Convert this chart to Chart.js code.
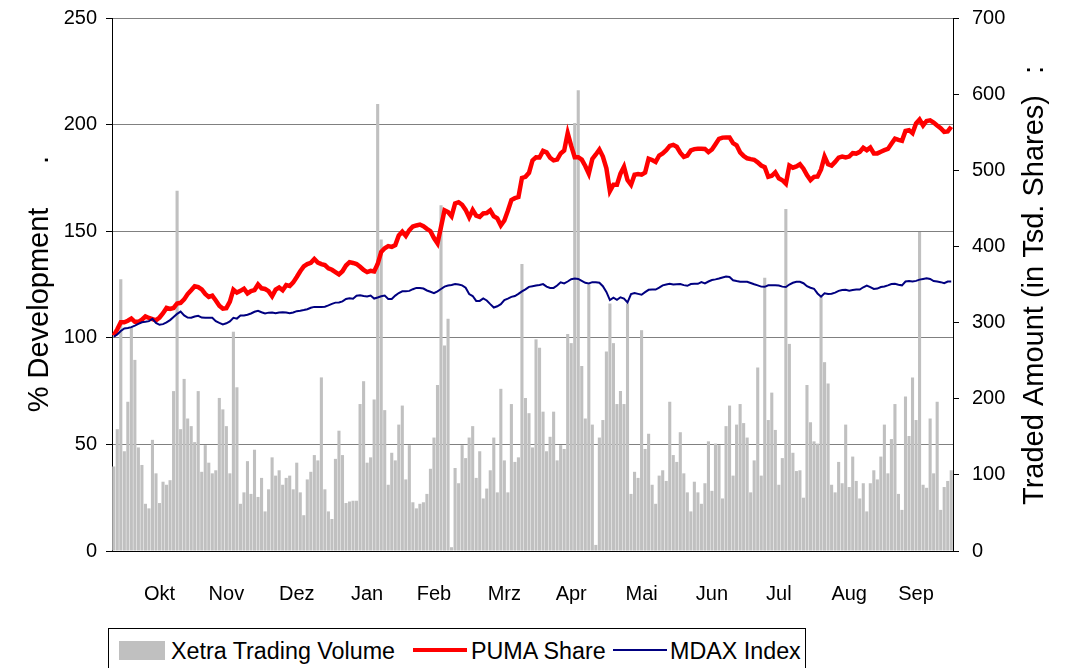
<!DOCTYPE html>
<html>
<head>
<meta charset="utf-8">
<script src="https://cdn.jsdelivr.net/npm/chart.js@4.4.1/dist/chart.umd.min.js"></script>
<style>
body{margin:0;background:#fff;overflow:hidden;font-family:"Liberation Sans",Arial,sans-serif;}
#wrap{position:relative;width:1068px;height:668px;}
#legend{position:absolute;left:108px;top:628px;width:698px;height:52px;border:1px solid #000;box-sizing:border-box;background:#fff;}
#legend div{position:absolute;}
#legend .txt{font-size:23.3px;line-height:26px;top:9px;color:#000;white-space:nowrap;}
</style>
</head>
<body>
<div id="wrap">
<canvas id="chart" width="1068" height="668"></canvas>
<div id="legend">
  <div style="left:10px;top:12px;width:46px;height:19px;background:#c0c0c0;"></div>
  <div class="txt" style="left:62px;">Xetra Trading Volume</div>
  <div style="left:304px;top:19px;width:54px;height:4px;background:#ff0000;"></div>
  <div class="txt" style="left:362px;">PUMA Share</div>
  <div style="left:504px;top:20px;width:54px;height:2px;background:#000080;"></div>
  <div class="txt" style="left:561px;">MDAX Index</div>
</div>
</div>
<script>
// x-axis month labels and the day index they sit on
const months = ['Okt','Nov','Dez','Jan','Feb','Mrz','Apr','Mai','Jun','Jul','Aug','Sep'];
const monthAt = [13,32,52,72,91,111,130,150,170,189,209,228];

// Xetra trading volume, in Tsd. shares (right axis)
const volume = [
  111,160,357,131,196,294,251,136,113,62,56,146,102,63,91,87,93,210,473,160,226,174,164,143,210,104,139,116,102,106,201,186,164,102,288,215,62,77,
  118,75,133,71,96,52,81,123,99,106,87,96,99,81,116,77,47,94,104,126,119,228,81,52,42,121,158,126,63,65,66,66,193,223,116,123,199,587,409,185,
  87,129,119,166,191,94,139,64,56,62,64,75,108,149,218,454,270,305,5,109,89,139,122,149,164,96,131,69,82,106,149,77,213,119,77,193,117,123,377,201,
  181,136,278,267,183,131,150,183,119,139,134,285,273,562,605,243,174,350,166,8,149,172,262,325,273,193,210,193,325,75,104,96,290,134,154,87,62,99,106,92,196,
  126,117,156,102,77,52,91,77,62,89,144,79,141,139,69,164,191,99,166,193,168,149,77,119,241,99,359,172,208,159,87,122,449,272,129,105,106,70,218,169,
  144,141,334,248,220,87,77,117,89,166,84,124,92,69,89,52,89,106,94,124,166,102,147,193,75,54,203,151,228,172,419,87,83,174,102,196,54,84,92,106
];

// PUMA share, % development (left axis)
const puma = [
  101,104,107.3,107.3,108,109,107.5,107.5,108.5,110,109.3,108.8,108.2,109.5,111.5,114,113.5,114,116.1,116.4,118,120.5,122.3,124.2,123.8,122.7,120.6,119.2,119.8,117.5,115,113.7,113.9,117,122.6,121.2,122,123,
  120.8,121.9,122.4,125,123.2,122.9,121.9,119.5,122.6,123.6,122.3,124.7,124.3,126,128.5,131.2,133.5,134.6,135.2,137,135.3,134.6,134.1,132.6,131.9,130.8,129.7,131.2,133.9,135.5,135.1,134.6,133.3,131.8,130.8,131.4,131.1,134.6,140.3,142,
  143,142.6,143.5,148,149.8,147.8,150.5,152.2,152.7,153.1,152.3,151.1,150,146.8,144.3,152,159.8,159,157,163,163.6,162.4,160,156.5,160,157.3,156.7,158.3,158.5,159.8,157,156,152.7,155,159.6,164.6,165.5,166,175,175.5,
  177.4,183.2,184.7,184.6,187.7,187,184.5,183.2,183.6,186.5,187.8,196,190,184.7,184.7,183.6,180.6,177,183.9,186,188.3,185,179.5,168.8,171.8,171.8,177,180.2,174,171.8,176.5,176.8,176.5,177.5,184,183.4,182.5,185.5,186.5,188,190,
  190.5,189.6,186.8,184.9,185.5,187.9,188.5,188.7,188.7,188.6,187.1,188.3,190.8,193.3,193.9,194,194,191.3,190.3,187,185.3,184.2,183.8,183.5,182.3,180.8,180,175.5,176,177.6,174.8,173.9,172.3,180.8,179.8,180.4,181.4,179.3,176.3,174,
  175.5,175.6,179,185,181.4,180.8,182.5,184.5,185,184.6,185,186.6,186.4,187.2,189.1,188,189.2,186.5,186.5,187.3,188,188.6,191,193.4,192.8,192.4,197,197.4,196,200.5,202.4,199.6,201.7,202,201,199.6,198.3,196.6,196.8,199
];

// MDAX index, % development (left axis)
const mdax = [
  100.5,101.6,103.2,104.4,104.6,105,105.7,106.5,107.3,107.5,107.8,108.9,107,106.1,106.4,107.2,108.3,109.8,111.2,112.3,110.5,109.5,109.4,110,110.3,109.5,109.4,109.4,109.4,107.8,107,106.3,106.8,107.7,109.4,109,110.5,110.5,
  110.8,111.4,112.2,112.7,112,111.4,111.8,111.9,111.5,111.9,112,111.9,111.5,111.9,112.5,112.7,113,113.4,114.1,114.5,114.5,114.5,114.6,115.2,115.9,116.5,116.6,117.1,118.2,118.5,118.3,119.7,120,119.6,119.4,119.8,118.4,118.9,119.5,119.8,
  118.2,118.2,119.8,121,121.8,121.8,122,122.8,123.4,123.4,123.1,122.2,121.6,120.9,121.8,122.9,124,124.5,124.8,125.2,125,124.6,123.5,120.5,119.6,117.3,117.3,118.5,117.5,115.8,114.2,114.8,115.8,117.7,118.4,119.2,119.6,120.6,121.8,122.7,
  123.9,124.2,124.5,124.8,125.2,124,123.4,123.4,124.5,126,125.5,126.4,127.5,127.8,127.6,126.7,125.8,125.5,126.1,126.1,125.8,124.2,121.5,117.7,118.8,117.8,119,118.4,116.6,120.5,121,120.6,120.2,121.4,122.5,122.6,122.6,123.5,124.6,125,125.3,
  125,125.1,125.2,124.7,124.4,125.2,125.3,125.3,126.1,125.5,126.4,127.1,127.4,127.8,128.3,128.7,128.5,127,126.6,126.3,126.3,126.3,125.7,125.1,124.6,124,123.9,124.6,124.7,124.7,124.5,124,123.8,125,125.8,126.3,126.3,125.6,124.2,123.5,
  123,120.8,119.3,120.9,120.6,120.7,121.2,122,122.4,122.5,122.1,122.4,122.6,122.6,123.7,124.5,123.8,122.9,123.1,123.8,124.1,124.6,125.2,125.3,124.9,124.6,126.4,126.6,126.4,126.7,127.3,127.6,127.9,127.6,126.6,126.4,126.1,125.6,126.4,126.4
];

const fontFam = '"Liberation Sans", Arial, sans-serif';
const days = volume.map((v, i) => i);

// axis titles read bottom-to-top on both sides
const axisTitles = {
    id: 'axisTitles',
    afterDraw(chart){
        const ctx = chart.ctx;
        ctx.save();
        ctx.fillStyle = '#000';
        ctx.font = '29px ' + fontFam;
        ctx.textBaseline = 'alphabetic';
        ctx.textAlign = 'center';
        ctx.translate(48, 310);
        ctx.rotate(-Math.PI / 2);
        ctx.fillText('% Development', 0, 0);
        ctx.fillText('.', 150, 0);
        ctx.restore();

        ctx.save();
        ctx.fillStyle = '#000';
        ctx.font = '29px ' + fontFam;
        ctx.textBaseline = 'alphabetic';
        ctx.textAlign = 'center';
        ctx.translate(1043, 300);
        ctx.rotate(-Math.PI / 2);
        ctx.fillText('Traded Amount (in Tsd. Shares)', 0, 0);
        ctx.fillText(':', 230, 0);
        ctx.restore();
    }
};

function fixY(width){
    return function(s){
        s.width = width;
        s.paddingTop = 0;
        s.paddingBottom = 0;
    };
}

new Chart(document.getElementById('chart'), {
    data: {
        labels: days,
        datasets: [{
            type: 'line',
            label: 'MDAX Index',
            data: mdax,
            yAxisID: 'y',
            borderColor: '#000080',
            borderWidth: 2,
            pointRadius: 0,
            tension: 0,
            order: 1
        }, {
            type: 'line',
            label: 'PUMA Share',
            data: puma,
            yAxisID: 'y',
            borderColor: '#ff0000',
            borderWidth: 4.5,
            pointRadius: 0,
            tension: 0,
            order: 2
        }, {
            type: 'bar',
            label: 'Xetra Trading Volume',
            data: volume,
            yAxisID: 'y2',
            backgroundColor: '#c0c0c0',
            barPercentage: 0.88,
            categoryPercentage: 1.0,
            order: 3
        }]
    },
    options: {
        responsive: false,
        animation: false,
        layout: {padding: {top: 18, left: 0, right: 0, bottom: 0}},
        plugins: {legend: {display: false}, tooltip: {enabled: false}},
        scales: {
            x: {
                grid: {display: false},
                border: {display: true, color: '#000', width: 1},
                ticks: {
                    autoSkip: false, maxRotation: 0, minRotation: 0, padding: 23,
                    color: '#000', font: {size: 20, family: fontFam},
                    callback: function(v, i){
                        let k = monthAt.indexOf(i);
                        return k >= 0 ? months[k] : '';
                    }
                },
                afterFit: function(s){ s.height = 117; s.paddingLeft = 0; s.paddingRight = 0; }
            },
            y: {
                position: 'left',
                min: 0, max: 250,
                ticks: {stepSize: 50, padding: 9, color: '#000', font: {size: 20, family: fontFam}},
                grid: {color: '#808080', tickColor: '#000', tickLength: 6},
                border: {color: '#000', width: 1},
                afterFit: fixY(112)
            },
            y2: {
                position: 'right',
                min: 0, max: 700,
                ticks: {stepSize: 100, padding: 13, color: '#000', font: {size: 20, family: fontFam}},
                grid: {drawOnChartArea: false, tickColor: '#000', tickLength: 6},
                border: {color: '#000', width: 1},
                afterFit: fixY(115)
            }
        }
    },
    plugins: [axisTitles]
});
</script>
</body>
</html>
